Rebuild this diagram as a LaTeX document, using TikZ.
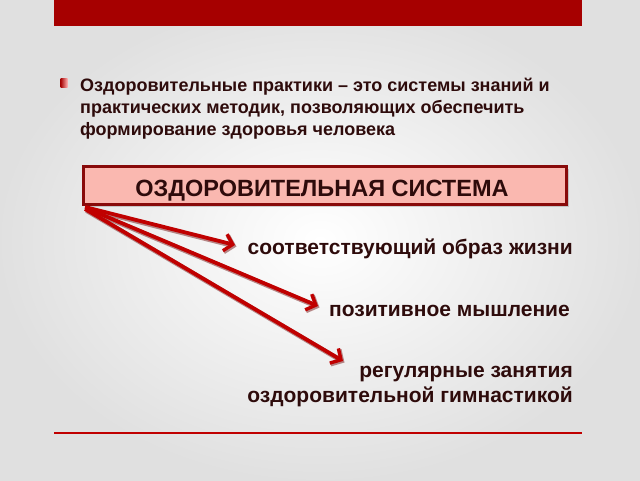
\documentclass[tikz,border=0pt]{standalone}
\usepackage{fontspec}
\setmainfont{Liberation Sans}
\usetikzlibrary{arrows.meta,shadows}
\definecolor{barred}{HTML}{A60000}
\definecolor{boxfill}{HTML}{FAB8B0}
\definecolor{boxline}{HTML}{880A0A}
\definecolor{txt}{HTML}{2E0B0B}
\definecolor{arrred}{HTML}{C00000}
\definecolor{arrdark}{HTML}{6A0000}
\tikzset{
  itemtext/.style={font=\bfseries\fontsize{21}{25}\selectfont, text=txt, anchor=base east, align=right, inner sep=0pt},
  conn/.style={line width=3.8pt, draw=arrred, -{Straight Barb[length=8pt,width=17pt,line width=3.4pt]}},
  connshadow/.style={line width=4.8pt, draw=arrdark, opacity=0.45, -{Straight Barb[length=8pt,width=17pt,line width=4.4pt]}},
}
\begin{document}
\begin{tikzpicture}[x=1pt,y=-1pt]
\useasboundingbox (0,0) rectangle (640,480);
% background
\shade[inner color=white, outer color=black!12] (0,0) rectangle (640,480);
% top bar
\fill[barred] (54,0) rectangle (582,26);
% bullet
\shade[left color=barred, right color=red!30!white] (60.5,78.5) rectangle (67.5,87);
% paragraph (anchored at the baseline of its last line)
\node[anchor=base west, inner sep=0pt, align=left, text=txt,
      font=\bfseries\fontsize{18}{22}\selectfont] (para) at (80,135)
  {Оздоровительные практики – это системы знаний и\\
   практических методик, позволяющих обеспечить\\
   формирование здоровья человека};
% main box
\node[draw=boxline, line width=3pt, fill=boxfill, minimum width=483pt, minimum height=38pt,
      inner sep=0pt,
      drop shadow={shadow xshift=2.5pt, shadow yshift=-2.5pt, opacity=0.35}] (sys) at (325,185.5) {};
\node[anchor=base, inner sep=0pt, font=\bfseries\fontsize{23.5}{28}\selectfont, text=txt]
  (systitle) at (322,196.5) {ОЗДОРОВИТЕЛЬНАЯ СИСТЕМА};
% items
\node[itemtext] (i1) at (573,254) {соответствующий образ жизни};
\node[itemtext] (i2) at (570,316) {позитивное мышление};
\node[itemtext] (i3) at (573,402) {регулярные занятия\\оздоровительной гимнастикой};
% arrow ends
\coordinate (s1) at ([shift={(3,1)}]sys.south west);
\coordinate (s2) at ([shift={(4,2)}]sys.south west);
\coordinate (s3) at ([shift={(3,3)}]sys.south west);
\coordinate (t1) at (235,245);
\coordinate (t2) at (318,306);
\coordinate (t3) at (343,361);
\foreach \s/\t in {s1/t1,s2/t2,s3/t3}{
  \draw[connshadow] ([shift={(1.5,1.5)}]\s) -- ([shift={(1.5,1.5)}]\t);
}
\draw[conn] (s1) -- (t1);
\draw[conn] (s2) -- (t2);
\draw[conn] (s3) -- (t3);
% bottom line
\draw[line width=2pt, draw=arrred] (54,432.5) coordinate (bl) -- (582,432.5) coordinate (br);
\end{tikzpicture}
\end{document}
